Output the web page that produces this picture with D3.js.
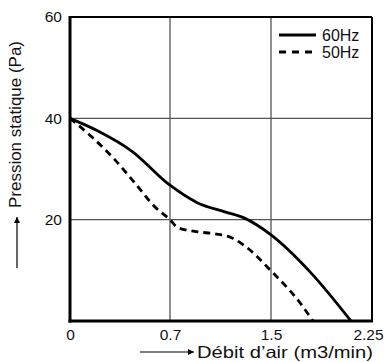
<!DOCTYPE html>
<html><head><meta charset="utf-8">
<script src="https://cdn.jsdelivr.net/npm/d3@7"></script>
<style>body{margin:0;background:#fff}svg{display:block}text{font-family:"Liberation Sans",Arial,sans-serif;fill:#111}</style>
</head><body><svg id="c" width="388" height="362"></svg>
<script>
const xTicks = [0, 0.7, 1.5, 2.25];
const yTicks = [20, 40, 60];
const flow60 = [0, 0.196, 0.434, 0.7, 0.92, 1.14, 1.29, 1.5, 1.79, 2.094];
const pres60 = [40, 37.5, 33.5, 26.8, 23.3, 21.5, 20.3, 17.0, 9.7, 0];
const flow50 = [0, 0.154, 0.315, 0.455, 0.595, 0.7, 0.763, 0.922, 1.056, 1.191, 1.294, 1.492, 1.715, 1.812];
const pres50 = [40, 36.3, 31.8, 27.2, 22.5, 20.0, 18.4, 17.6, 17.2, 16.4, 14.8, 10.1, 3.6, 0];
const seriesNames = ["60Hz", "50Hz"];
const xLabel = "Débit d’air (m3/min)";
const yLabel = "Pression statique (Pa)";

const svg = d3.select("#c");
const L = 70, R = 372, T = 17, B = 321;
const FONT = "Liberation Sans, Arial, sans-serif";
const x = d3.scaleLinear().domain(xTicks).range([70, 170, 271, 372]);
const y = d3.scaleLinear().domain([0, 60]).range([B, T]);

// grid
svg.append("g").selectAll("line").data([0.7, 1.5]).join("line")
  .attr("x1", d => x(d)).attr("x2", d => x(d)).attr("y1", T).attr("y2", B)
  .attr("stroke", "#222").attr("stroke-width", 1);
svg.append("g").selectAll("line").data([20, 40]).join("line")
  .attr("x1", L).attr("x2", R).attr("y1", d => y(d)).attr("y2", d => y(d))
  .attr("stroke", "#555").attr("stroke-width", 1.2);

// curves
const line = d3.line().x(d => x(d[0])).y(d => y(d[1])).curve(d3.curveMonotoneX);
svg.append("path").datum(flow60.map((f, i) => [f, pres60[i]]))
  .attr("d", line).attr("fill", "none").attr("stroke", "#000").attr("stroke-width", 2.8);
svg.append("path").datum(flow50.map((f, i) => [f, pres50[i]]))
  .attr("d", line).attr("fill", "none").attr("stroke", "#000").attr("stroke-width", 2.8)
  .attr("stroke-dasharray", "7,5");

// frame
svg.append("line").attr("x1", L).attr("x2", R).attr("y1", T).attr("y2", T).attr("stroke", "#000").attr("stroke-width", 2);
svg.append("line").attr("x1", R).attr("x2", R).attr("y1", T).attr("y2", B).attr("stroke", "#000").attr("stroke-width", 2);
svg.append("line").attr("x1", L).attr("x2", L).attr("y1", T - 1).attr("y2", B + 1.5).attr("stroke", "#000").attr("stroke-width", 3);
svg.append("line").attr("x1", L - 1.5).attr("x2", R + 1).attr("y1", B).attr("y2", B).attr("stroke", "#000").attr("stroke-width", 3);

// axes
const xa = svg.append("g").attr("transform", `translate(0,${B})`)
  .call(d3.axisBottom(x).tickValues(xTicks).tickSize(0).tickPadding(8).tickFormat(d => String(d)));
xa.select(".domain").remove();
xa.selectAll("text").attr("font-size", 15.5).attr("fill", "#111").style("font-family", FONT)
  .attr("dx", d => d === 2.25 ? -4 : 0);
const ya = svg.append("g").attr("transform", `translate(${L},0)`)
  .call(d3.axisLeft(y).tickValues(yTicks).tickSize(0).tickPadding(8).tickFormat(d => String(d)));
ya.select(".domain").remove();
ya.selectAll("text").attr("font-size", 15.5).attr("fill", "#111").style("font-family", FONT);

// arrow marker
svg.append("defs").append("marker").attr("id", "ah").attr("viewBox", "0 0 10 10")
  .attr("refX", 10).attr("refY", 5).attr("markerWidth", 8).attr("markerHeight", 6)
  .attr("markerUnits", "userSpaceOnUse").attr("orient", "auto")
  .append("path").attr("d", "M0,0L10,5L0,10Z").attr("fill", "#000");

// x label
svg.append("line").attr("x1", 140).attr("x2", 194).attr("y1", 352).attr("y2", 352)
  .attr("stroke", "#000").attr("stroke-width", 1.2).attr("marker-end", "url(#ah)");
svg.append("text").attr("x", 197).attr("y", 358).attr("font-size", 16.5)
  .attr("textLength", 176).attr("lengthAdjust", "spacingAndGlyphs").text(xLabel);

// y label
svg.append("line").attr("x1", 17).attr("x2", 17).attr("y1", 268).attr("y2", 217)
  .attr("stroke", "#000").attr("stroke-width", 1.2).attr("marker-end", "url(#ah)");
svg.append("text").attr("transform", "translate(21,208) rotate(-90)").attr("font-size", 16)
  .attr("textLength", 167).attr("lengthAdjust", "spacingAndGlyphs").text(yLabel);

// legend
const lg = svg.append("g");
seriesNames.forEach((n, i) => {
  const ly = 35 + i * 17;
  lg.append("line").attr("x1", 279).attr("x2", 316).attr("y1", ly).attr("y2", ly)
    .attr("stroke", "#000").attr("stroke-width", 2.8).attr("stroke-dasharray", i === 1 ? "7,6" : null);
  lg.append("text").attr("x", 322).attr("y", ly + 5.5).attr("font-size", 16).text(n);
});
</script></body></html>
